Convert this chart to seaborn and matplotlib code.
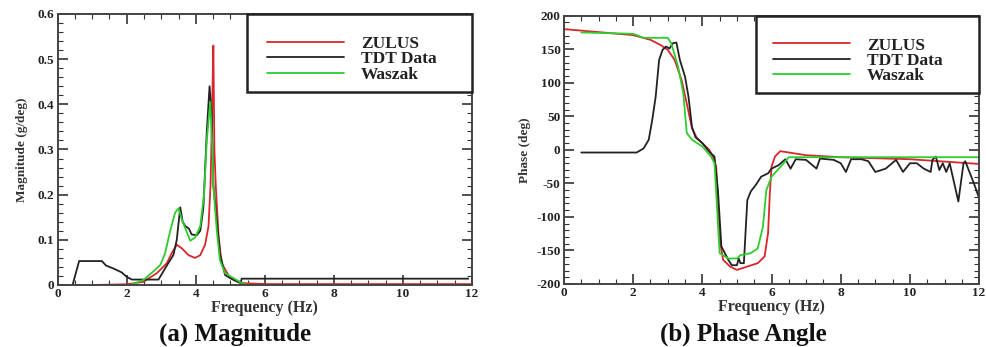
import numpy as np
import pandas as pd
import matplotlib
matplotlib.use("Agg")
import matplotlib.pyplot as plt
from matplotlib.ticker import MultipleLocator, FuncFormatter
from matplotlib.patches import Rectangle
import seaborn as sns

# ---------------- data ----------------
labels = ["ZULUS", "TDT Data", "Waszak"]
colors = ["#d8262b", "#222222", "#2ecc2e"]

# Magnitude panel
mag_zulus_f = [1.0, 2.0, 2.48, 2.87, 3.16, 3.3, 3.45, 3.6, 3.79, 3.98, 4.13, 4.27, 4.37, 4.43, 4.48, 4.51, 4.54, 4.58, 4.66, 4.75, 5.0, 5.38, 6.06, 12.0]
mag_zulus_v = [0.0, 0.0015, 0.007, 0.026, 0.048, 0.07, 0.089, 0.081, 0.066, 0.06, 0.066, 0.089, 0.13, 0.225, 0.41, 0.53, 0.30, 0.22, 0.11, 0.048, 0.015, 0.004, 0.002, 0.002]

mag_tdt_f = [0.43, 0.62, 1.28, 1.4, 1.6, 1.85, 2.0, 2.15, 2.92, 3.06, 3.2, 3.35, 3.45, 3.55, 3.62, 3.7, 3.8, 3.88, 4.03, 4.13, 4.22, 4.32, 4.40, 4.46, 4.51, 4.6, 4.7, 4.85, 5.1, 5.3, 5.33, 11.9]
mag_tdt_v = [0.0, 0.053, 0.053, 0.043, 0.037, 0.028, 0.018, 0.012, 0.012, 0.03, 0.048, 0.066, 0.10, 0.172, 0.14, 0.13, 0.125, 0.112, 0.11, 0.12, 0.17, 0.34, 0.44, 0.38, 0.22, 0.15, 0.07, 0.022, 0.011, 0.004, 0.014, 0.014]

mag_wsz_f = [2.1, 2.48, 2.77, 2.97, 3.11, 3.26, 3.4, 3.5, 3.6, 3.84, 3.98, 4.13, 4.24, 4.32, 4.42, 4.47, 4.51, 4.61, 4.7, 4.85, 5.1, 5.38, 5.67]
mag_wsz_v = [0.0, 0.011, 0.03, 0.044, 0.07, 0.12, 0.16, 0.17, 0.144, 0.098, 0.105, 0.13, 0.20, 0.32, 0.405, 0.32, 0.22, 0.12, 0.055, 0.026, 0.015, 0.002, 0.0]

# Phase panel
ph_zulus_f = [0.0, 0.0, 2.0, 2.5, 2.8, 3.0, 3.2, 3.4, 3.55, 3.7, 3.85, 4.0, 4.2, 4.3, 4.4, 4.45, 4.5, 4.6, 4.8, 5.0, 5.3, 5.6, 5.8, 5.9, 5.95, 6.0, 6.1, 6.25, 6.5, 7.0, 8.0, 10.0, 12.0]
ph_zulus_v = [-183, 180, 171, 164, 156, 149, 134, 104, 69, 32, 17, 10, 0, -10, -25, -75, -134, -164, -174, -179, -174, -169, -159, -124, -65, -25, -10, -2, -4, -8, -11, -14, -21]

ph_tdt_f = [0.5, 2.1, 2.3, 2.45, 2.55, 2.65, 2.75, 2.85, 2.95, 3.05, 3.15, 3.25, 3.35, 3.5, 3.6, 3.7, 3.8, 4.0, 4.2, 4.35, 4.45, 4.55, 4.65, 4.75, 4.85, 5.0, 5.05, 5.1, 5.2, 5.3, 5.4, 5.55, 5.7, 5.9, 6.0, 6.2, 6.4, 6.55, 6.7, 7.0, 7.3, 7.4, 7.8, 8.0, 8.15, 8.3, 8.6, 8.8, 9.0, 9.3, 9.6, 9.8, 10.0, 10.2, 10.4, 10.6, 10.65, 10.75, 10.85, 10.95, 11.05, 11.15, 11.4, 11.55, 11.6, 11.85, 12.0]
ph_tdt_v = [-4, -4, 2, 15, 44, 79, 134, 149, 154, 151, 159, 160, 134, 109, 79, 34, 19, 10, -3, -10, -60, -144, -154, -164, -172, -172, -162, -169, -169, -75, -62, -52, -40, -35, -28, -23, -14, -28, -14, -15, -28, -13, -15, -20, -33, -14, -14, -17, -33, -28, -15, -33, -20, -20, -28, -33, -15, -10, -30, -20, -33, -20, -77, -20, -17, -50, -72]

ph_wsz_f = [0.5, 2.0, 2.3, 3.0, 3.1, 3.3, 3.45, 3.55, 3.7, 4.0, 4.25, 4.35, 4.5, 4.75, 5.0, 5.1, 5.4, 5.6, 5.75, 5.85, 6.0, 6.3, 6.5, 7.0, 8.0, 10.0, 12.0]
ph_wsz_v = [175, 173, 167, 167, 159, 124, 84, 25, 15, 5, -10, -20, -154, -162, -162, -157, -154, -147, -115, -60, -40, -23, -11, -11, -11, -11, -11]

# ---------------- style ----------------
sns.set_theme(style="white")
plt.rcParams["font.family"] = ["Liberation Serif", "DejaVu Serif"]
plt.rcParams["font.weight"] = "bold"
plt.rcParams["axes.labelweight"] = "bold"

fig = plt.figure(figsize=(9.87, 3.47), dpi=100)
ax1 = fig.add_axes([0.0585, 0.1787, 0.4195, 0.781])
ax2 = fig.add_axes([0.5714, 0.1816, 0.4206, 0.7732])

def draw(ax, series):
    for (f, v), lab, col in zip(series, labels, colors):
        df = pd.DataFrame({"Frequency": f, "Value": v})
        sns.lineplot(data=df, x="Frequency", y="Value", ax=ax, color=col,
                     label=lab, estimator=None, sort=False, errorbar=None,
                     linewidth=1.3)

draw(ax1, [(mag_zulus_f, mag_zulus_v), (mag_tdt_f, mag_tdt_v), (mag_wsz_f, mag_wsz_v)])
draw(ax2, [(ph_zulus_f, ph_zulus_v), (ph_tdt_f, ph_tdt_v), (ph_wsz_f, ph_wsz_v)])

def style(ax, ylim, ymaj, ymin, ylabel, fmt, box_x0, box_y0, leg_x, leg_y, ylabelpad):
    ax.set_xlim(0, 12)
    ax.set_ylim(*ylim)
    ax.xaxis.set_major_locator(MultipleLocator(2))
    ax.xaxis.set_minor_locator(MultipleLocator(0.5))
    ax.yaxis.set_major_locator(MultipleLocator(ymaj))
    ax.yaxis.set_minor_locator(MultipleLocator(ymin))
    ax.tick_params(which="both", direction="in", top=True, right=True, bottom=True, left=True,
                   colors="#333333", labelcolor="#222222")
    ax.tick_params(which="major", length=7, width=1.2, labelsize=9.5, pad=2.5)
    ax.tick_params(which="minor", length=3.5, width=0.8)
    ax.yaxis.set_major_formatter(FuncFormatter(fmt))
    for lab in ax.get_xticklabels() + ax.get_yticklabels():
        lab.set_fontweight("bold")
    for s in ax.spines.values():
        s.set_color("#444444")
        s.set_linewidth(1.4)
    ax.set_xlabel("Frequency (Hz)", fontsize=11.5, fontweight="bold", labelpad=0, color="#333333")
    ax.set_ylabel(ylabel, fontsize=9.5, fontweight="bold", labelpad=ylabelpad, color="#333333")
    # legend box (frame drawn as a rectangle in axes coordinates)
    rect = Rectangle((box_x0, box_y0), 1 - box_x0, 1 - box_y0, transform=ax.transAxes,
                     facecolor="white", edgecolor="#222222", linewidth=1.8, zorder=5,
                     clip_on=False)
    ax.add_patch(rect)
    leg = ax.legend(loc="upper left", bbox_to_anchor=(leg_x, leg_y),
                    borderaxespad=0, borderpad=0, frameon=False,
                    handlelength=4.4, handletextpad=1.0, labelspacing=-0.05,
                    prop={"family": ["Liberation Serif"], "weight": "bold", "size": 12.5})
    leg.set_zorder(6)
    for t in leg.get_texts():
        t.set_color("#222222")

style(ax1, (0, 0.6), 0.1, 0.02, "Magnitude (g/deg)",
      lambda v, p: "0" if abs(v) < 1e-9 else f"{v:.1f}",
      0.457, 0.712, 0.506, 0.919, 7)
style(ax2, (-200, 200), 50, 10, "Phase (deg)",
      lambda v, p: f"{int(round(v))}",
      0.462, 0.712, 0.504, 0.919, 4)

fig.text(235 / 987, 1 - 334 / 347, "(a) Magnitude", ha="center", va="center",
         fontsize=18, fontweight="bold", color="#111111")
fig.text(743 / 987, 1 - 334 / 347, "(b) Phase Angle", ha="center", va="center",
         fontsize=18, fontweight="bold", color="#111111")

fig.savefig("out.png", dpi=100)
